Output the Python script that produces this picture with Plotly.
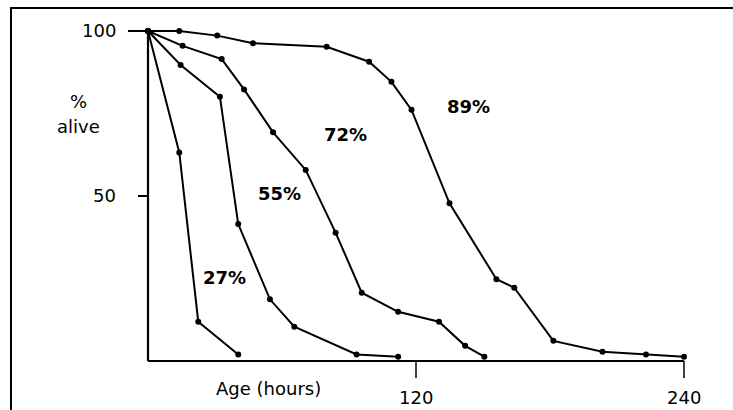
import plotly.graph_objects as go

# Survival curves (% alive vs age in hours)
s89_x = [0, 14, 31, 47, 80, 99, 109, 118, 135, 156, 164, 181.5, 203.5, 223, 240]
s89_y = [100, 100, 98.6, 96.3, 95.2, 90.7, 84.6, 76.1, 47.8, 24.8, 22.2, 6.1, 2.8, 2.0, 1.3]

s72_x = [0, 15.5, 33, 43, 56, 70.6, 84, 95.7, 112, 130.3, 142, 150.6]
s72_y = [100, 95.5, 91.5, 82.3, 69.3, 57.9, 38.9, 20.7, 14.9, 11.9, 4.6, 1.3]

s55_x = [0, 14.6, 32.2, 40.4, 54.6, 65.5, 93.4, 112]
s55_y = [100, 89.7, 80.1, 41.5, 18.7, 10.4, 2.0, 1.3]

s27_x = [0, 14, 22.5, 40.4]
s27_y = [100, 63.2, 11.9, 2.0]

series_labels = ["89%", "72%", "55%", "27%"]
label_x = [143.3, 88.4, 59.1, 34.3]
label_y = [77.1, 68.5, 50.8, 25.4]

x_ticks = [120, 240]
y_ticks = [50, 100]

FONT = "DejaVu Sans"
W, H = 733, 410
# pixel mapping: x=0 -> 148px, x=240 -> 684px ; y=0 -> 361px, y=100 -> 31px
px_per_x = (684 - 148) / 240
px_per_y = (361 - 31) / 100
x_range = [-148 / px_per_x, (W - 148) / px_per_x]
y_range = [(361 - H) / px_per_y, 361 / px_per_y]

fig = go.Figure()
for xs, ys in [(s89_x, s89_y), (s72_x, s72_y), (s55_x, s55_y), (s27_x, s27_y)]:
    fig.add_trace(go.Scatter(
        x=xs, y=ys, mode="lines+markers",
        line=dict(color="black", width=2),
        marker=dict(color="black", size=6),
        cliponaxis=False, showlegend=False, hoverinfo="skip"))

# axes lines
fig.add_shape(type="line", x0=0, x1=0, y0=0, y1=y_ticks[-1], line=dict(color="black", width=2.2))
fig.add_shape(type="line", x0=0, x1=x_ticks[-1], y0=0, y1=0, line=dict(color="black", width=2.2))
# y ticks
ytick_len_px = [10, 20]
for v, L in zip(y_ticks, ytick_len_px):
    fig.add_shape(type="line", x0=-L / px_per_x, x1=0, y0=v, y1=v, line=dict(color="black", width=2))
    fig.add_annotation(x=-30 / px_per_x, y=v, text=str(v), showarrow=False,
                       xanchor="right", yanchor="middle", yshift=1,
                       font=dict(family=FONT, size=18, color="black"))
# x ticks
for v in x_ticks:
    fig.add_shape(type="line", x0=v, x1=v, y0=0, y1=-17 / px_per_y, line=dict(color="black", width=1.5))
    fig.add_annotation(x=v, y=-36 / px_per_y, text=str(v), showarrow=False,
                       xanchor="center", yanchor="middle",
                       font=dict(family=FONT, size=18, color="black"))

# axis titles
fig.add_annotation(x=-70 / px_per_x, y=260 / px_per_y, text="%", showarrow=False,
                   xanchor="center", yanchor="middle", font=dict(family=FONT, size=18, color="black"))
fig.add_annotation(x=-70 / px_per_x, y=235 / px_per_y, text="alive", showarrow=False,
                   xanchor="center", yanchor="middle", font=dict(family=FONT, size=18, color="black"))
fig.add_annotation(x=120.5 / px_per_x, y=-27 / px_per_y, text="Age (hours)", showarrow=False,
                   xanchor="center", yanchor="middle", font=dict(family=FONT, size=18, color="black"))

# series labels
for t, lx, ly in zip(series_labels, label_x, label_y):
    fig.add_annotation(x=lx, y=ly, text="<b>" + t + "</b>", showarrow=False, xanchor="center", yanchor="middle",
                       font=dict(family=FONT, size=18, color="black"))

# outer frame
fig.add_shape(type="rect", xref="paper", yref="paper",
              x0=11 / W, x1=1.02, y0=-0.02, y1=1 - 8 / H,
              line=dict(color="black", width=2), layer="below")

fig.update_layout(
    width=W, height=H,
    margin=dict(l=0, r=0, t=0, b=0),
    paper_bgcolor="white", plot_bgcolor="white",
    xaxis=dict(range=x_range, visible=False, fixedrange=True),
    yaxis=dict(range=y_range, visible=False, fixedrange=True),
)

fig.write_html("out.html")
